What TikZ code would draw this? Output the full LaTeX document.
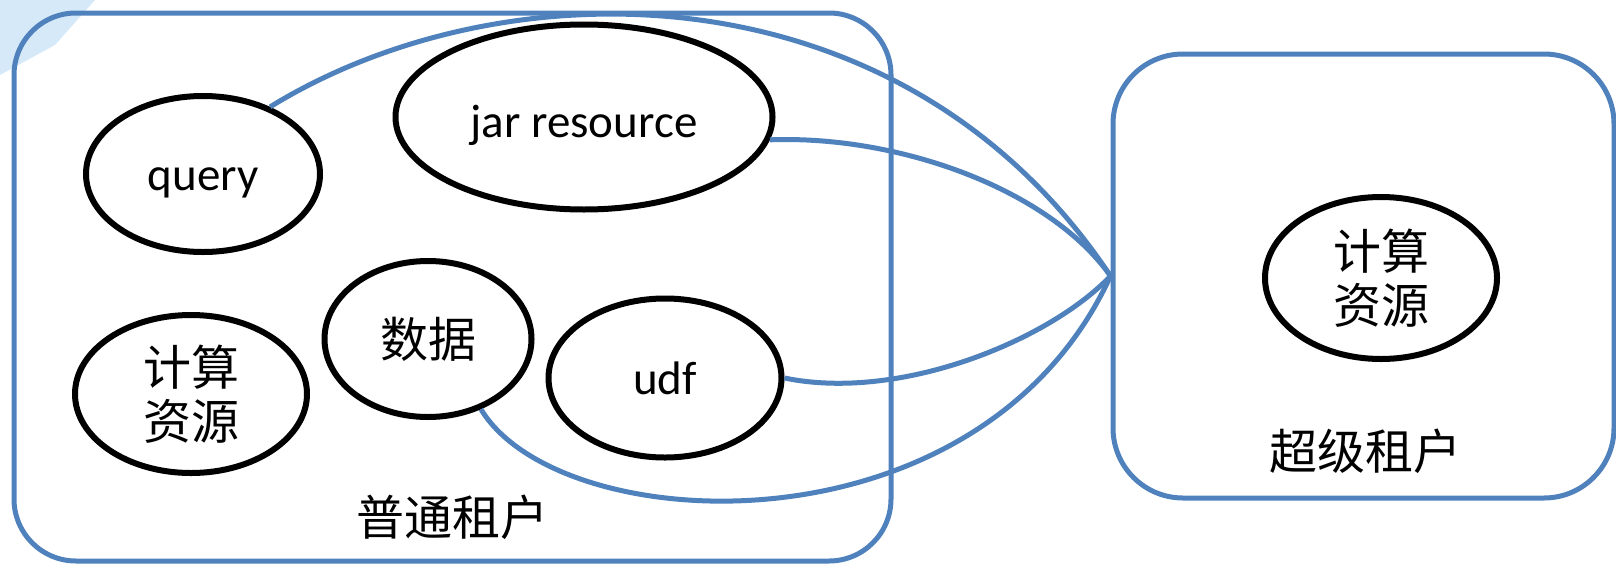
\documentclass[tikz,border=0pt]{standalone}
\usepackage{fontspec}
\setmainfont{Carlito}
\newfontfamily\cjk{Noto Sans CJK SC}
\usetikzlibrary{shapes.geometric}
\definecolor{boxblue}{RGB}{79,129,189}
\definecolor{paleblue}{RGB}{214,233,248}
\begin{document}
\begin{tikzpicture}[x=1pt,y=-1pt,
  tenant/.style={draw=boxblue,line width=5pt,rectangle,inner sep=0pt},
  obj/.style={ellipse,draw=black,line width=6pt,inner sep=0pt,align=center,
    font=\fontsize{47}{50}\selectfont,text depth=0pt},
  cjktext/.style={font=\cjk\fontsize{48}{54}\selectfont,text depth=},
  link/.style={draw=boxblue,line width=5pt}]
\useasboundingbox (0,0) rectangle (1616,565);
\fill[paleblue] (0,0) -- (95,0) -- (55,45) -- (0,75) -- cycle;
\node[tenant,rounded corners=62pt,minimum width=877pt,minimum height=548pt] (normalbox) at (452.5,287) {};
\node[tenant,rounded corners=70pt,minimum width=501pt,minimum height=444pt] (superbox) at (1363.5,276) {};
\node[obj,minimum width=234pt,minimum height=156pt,text height=32pt] (query) at (203,174) {query};
\node[obj,minimum width=377pt,minimum height=185pt,text height=41pt] (jar) at (584,117) {jar resource};
\node[obj,cjktext,minimum width=207pt,minimum height=156pt] (data) at (428,339) {数据};
\node[obj,minimum width=233pt,minimum height=159pt] (udf) at (665,378) {udf};
\node[obj,cjktext,minimum width=232pt,minimum height=158pt] (calcl) at (191,394) {计算\\资源};
\node[obj,cjktext,minimum width=232pt,minimum height=162pt] (calcr) at (1381,278) {计算\\资源};
\node[cjktext] (normallabel) at (452,517) {普通租户};
\node[cjktext] (superlabel) at (1365,451) {超级租户};
\draw[link] (query.45) .. controls (500,-35) and (900,-40) .. (superbox.west);
\draw[link] (jar.-7) .. controls (900,135) and (1050,190) .. (superbox.west);
\draw[link] (udf.east) .. controls (900,402) and (1050,340) .. (superbox.west);
\draw[link] (data.-53) .. controls (560,540) and (980,560) .. (superbox.west);
\end{tikzpicture}
\end{document}
